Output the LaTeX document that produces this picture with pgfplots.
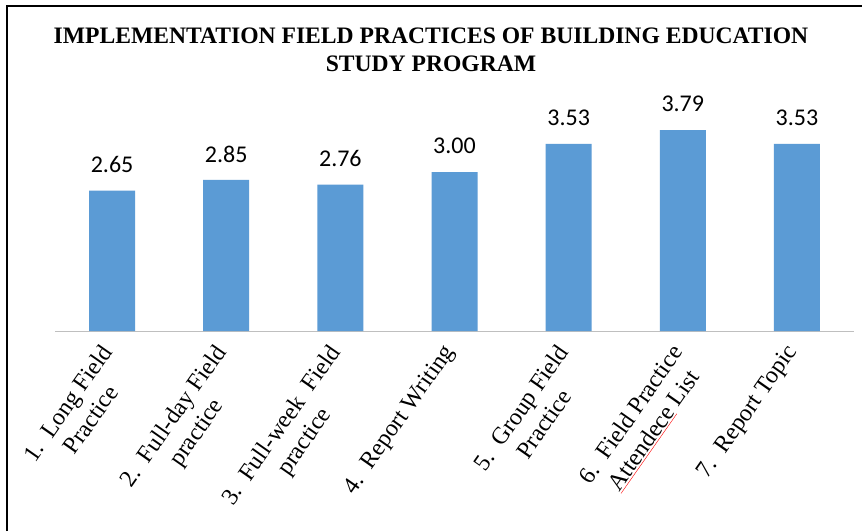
\documentclass[border=0pt]{standalone}
\usepackage{pgfplots}
\pgfplotsset{compat=1.18}
\usepackage{fontspec}
\setmainfont{Liberation Serif}
\newfontfamily\calibri{Carlito}
\definecolor{barblue}{HTML}{5B9BD5}
\definecolor{axgray}{HTML}{BFBFBF}
\begin{document}
\begin{tikzpicture}
\useasboundingbox (0,0) rectangle (862pt,531pt);
\fill[white] (0,0) rectangle (862pt,531pt);
\draw[line width=2pt] (7pt,0) -- (7pt,525pt) -- (862pt,525pt);
\node[align=center, font=\bfseries\fontsize{23.6}{28}\selectfont] at (431pt,481pt)
  {IMPLEMENTATION FIELD PRACTICES OF BUILDING EDUCATION\\STUDY PROGRAM};
\begin{axis}[
  at={(55pt,200pt)}, anchor=south west,
  scale only axis, width=799pt, height=212pt,
  xmin=-0.5, xmax=6.5, ymin=0, ymax=4,
  axis x line=bottom, axis y line=none,
  x axis line style={axgray, line width=1pt, -},
  major tick length=0pt,
  ytick=\empty,
  xtick={0,1,2,3,4,5,6},
  xticklabels={{1.\ \ Long Field\\Practice},{2.\ \ Full-day Field\\practice},{3.\ \ Full-week\ \ Field\\practice},{4.\ \ Report Writing},{5.\ \ Group Field\\Practice},{6.\ \ Field Practice\\{\color{red}$\underline{\hbox{\color{black}Attendece}}$} List},{7.\ \ Report Topic}},
  xticklabel style={xshift=-13pt, rotate=55, anchor=north east, align=center, font=\fontsize{24}{28}\selectfont, inner sep=1pt},
  xticklabel shift=10pt,
  clip=false,
  nodes near coords,
  point meta=explicit symbolic,
  every node near coord/.append style={font=\calibri\fontsize{24}{28}\selectfont, anchor=center, yshift=26pt},
]
\addplot[ybar, bar width=46pt, fill=barblue, draw=none] coordinates {
  (0,2.65)[2.65] (1,2.85)[2.85] (2,2.76)[2.76] (3,3.00)[3.00] (4,3.53)[3.53] (5,3.79)[3.79] (6,3.53)[3.53]
};
\end{axis}
\end{tikzpicture}
\end{document}
